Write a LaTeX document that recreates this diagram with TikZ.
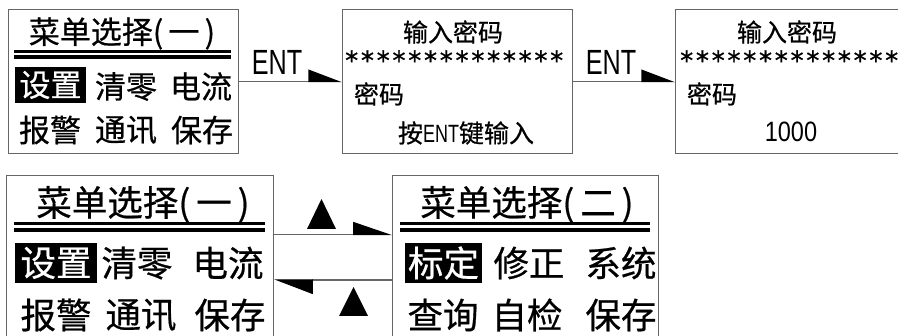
\documentclass[tikz,border=0pt]{standalone}
\usepackage{fontspec}
\newfontfamily\cjk[FakeBold=0.6]{Noto Sans CJK SC}
\newfontfamily\nar[FakeStretch=0.72]{Liberation Sans}
\newfontfamily\narb[FakeStretch=0.84]{Liberation Sans}
\newfontfamily\starfont[FakeBold=1]{DejaVu Sans}
\usetikzlibrary{arrows.meta}
\newcommand{\starrow}{\hbox to 218pt{*\hfil*\hfil*\hfil*\hfil*\hfil*\hfil*\hfil*\hfil*\hfil*\hfil*\hfil*\hfil*\hfil*}}
\begin{document}
\begin{tikzpicture}[x=1pt,y=-1pt,
  box/.style={draw=black!60, line width=1.2pt, inner sep=0, anchor=north west},
  ta/.style={inner sep=0, font=\cjk\fontsize{31}{31}\selectfont},
  tb/.style={inner sep=0, font=\cjk\fontsize{25}{25}\selectfont},
  tc/.style={inner sep=0, font=\cjk\fontsize{35.5}{35.5}\selectfont},
  hl/.style={fill=black, text=white, inner sep=0},
  entf/.style={inner sep=0, font=\nar\fontsize{35}{35}\selectfont},
  stars/.style={inner sep=0, anchor=west, font=\starfont\fontsize{26}{26}\selectfont},
  dbl/.style={line width=3.5pt, black},
  conn/.style={draw=black!60, line width=1.2pt},
]
\clip (0,0) rectangle (898,336);
\fill[white] (0,0) rectangle (898,336);

% ---------- top row ----------
\node[box, minimum width=230pt, minimum height=144pt] (b1) at (8,9) {};
\node[box, minimum width=230pt, minimum height=144pt] (b2) at (342,9) {};
\node[box, minimum width=234pt, minimum height=144pt] (b3) at (675,9) {};

% box 1
\node[ta] (b1title) at (122,33.5) {菜单选择(\,一\,)};
\draw[dbl] (14,51.3) -- (231,51.3);
\draw[dbl] (14,57.2) -- (231,57.2);
\node[ta, hl, minimum width=71pt, minimum height=36pt] (b1a) at (50.5,85) {设置};
\node[ta] (b1b) at (126,86.5) {清零};
\node[ta] (b1c) at (201,86.5) {电流};
\node[ta] (b1d) at (50,130) {报警};
\node[ta] (b1e) at (126,130) {通讯};
\node[ta] (b1f) at (202,130) {保存};

% box 2
\node[tb] (b2title) at (453,32) {输入密码};
\node[stars] (b2s) at (345,60) {\starrow};
\node[tb] (b2p) at (379,94) {密码};
\node[tb] (b2h) at (466,133) {按{\nar ENT}键输入};

% box 3
\node[tb] (b3title) at (787,32) {输入密码};
\node[stars] (b3s) at (680,60) {\starrow};
\node[tb] (b3p) at (712,94) {密码};
\node[inner sep=0, font=\narb\fontsize{28}{28}\selectfont] (b3v) at (791,132) {1000};

% connectors top
\draw[conn, -{Triangle[harpoon,length=32pt,width=24pt,color=black]}] (b1.east) -- (b2.west);
\node[entf] (ent1) at (277,62.5) {ENT};
\draw[conn, -{Triangle[harpoon,length=32pt,width=24pt,color=black]}] (b2.east) -- (b3.west);
\node[entf] (ent2) at (611,62.5) {ENT};

% ---------- bottom row ----------
\node[box, minimum width=267pt, minimum height=180pt] (b4) at (6,175) {};
\node[box, minimum width=266pt, minimum height=180pt] (b5) at (392,175) {};

% box 4
\node[tc] (b4title) at (143,204.5) {菜单选择(\,一\,)};
\draw[dbl] (14,223.4) -- (265,223.4);
\draw[dbl] (14,230) -- (265,230);
\node[tc, hl, minimum width=82pt, minimum height=40pt] (b4a) at (56,263) {设置};
\node[tc] (b4b) at (137,263) {清零};
\node[tc] (b4c) at (228,263) {电流};
\node[tc] (b4d) at (56,315) {报警};
\node[tc] (b4e) at (141,315) {通讯};
\node[tc] (b4f) at (230,315) {保存};

% box 5
\node[tc] (b5title) at (527,204.5) {菜单选择(\,二\,)};
\draw[dbl] (400,223.4) -- (650,223.4);
\draw[dbl] (400,230) -- (650,230);
\node[tc, hl, minimum width=77pt, minimum height=40pt] (b5a) at (443.5,263) {标定};
\node[tc] (b5b) at (529,263) {修正};
\node[tc] (b5c) at (621,263) {系统};
\node[tc] (b5d) at (443,315) {查询};
\node[tc] (b5e) at (527,315) {自检};
\node[tc] (b5f) at (621,315) {保存};

% connectors bottom
\draw[conn, -{Triangle[harpoon,length=37pt,width=25pt,color=black]}] ([yshift=-59.5pt]b4.north east) -- ([yshift=-59.5pt]b5.north west);
\draw[conn, -{Triangle[harpoon,length=37pt,width=28pt,color=black]}] ([yshift=-105pt]b5.north west) -- ([yshift=-105pt]b4.north east);
\fill (307,229) -- (321.5,199) -- (336,229) -- cycle;
\fill (339,316) -- (353.5,287) -- (368,316) -- cycle;
\end{tikzpicture}
\end{document}
